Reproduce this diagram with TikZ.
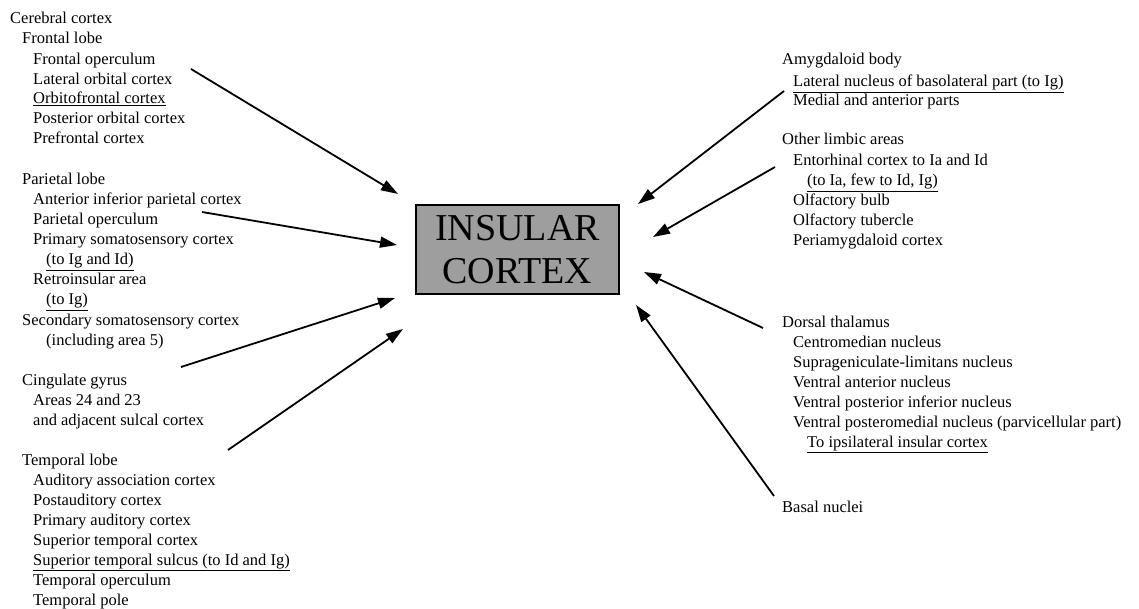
\documentclass[tikz,border=0pt]{standalone}
\usepackage{fontspec}
\setmainfont{Liberation Serif}
\usepackage{tikz}
\usetikzlibrary{arrows.meta}

\begin{document}
\begin{tikzpicture}[x=1pt,y=-1pt]
	 \tikzstyle{item}=[anchor=base west,inner sep=0pt,font=\fontsize{16.5}{19}\selectfont]
	 \tikzstyle{insula}=[draw,line width=1.6pt,fill=black!38,minimum width=203pt,minimum height=89pt,
	                     align=center,inner sep=0pt,font=\fontsize{38}{43}\selectfont]
	 \tikzstyle{projection}=[draw,line width=1.8pt,-{Triangle[length=17pt,width=11pt]},black]

	 \useasboundingbox (0,0) rectangle (1139,609);

	 % centre
	 \node[insula] (ic) at (517.5,249.5) {INSULAR\\CORTEX};

	 % cerebral cortex
	 \node[item] (cc)  at (10,24)  {Cerebral cortex};
	 \node[item] (fl)  at (22,44)  {Frontal lobe};
	 \node[item] (fl1) at (33,65)  {Frontal operculum};
	 \node[item] (fl2) at (33,85)  {Lateral orbital cortex};
	 \node[item] (fl3) at (33,104) {\underline{Orbitofrontal cortex}};
	 \node[item] (fl4) at (33,124) {Posterior orbital cortex};
	 \node[item] (fl5) at (33,144) {Prefrontal cortex};

	 \node[item] (pl)  at (22,185) {Parietal lobe};
	 \node[item] (pl1) at (33,205) {Anterior inferior parietal cortex};
	 \node[item] (pl2) at (33,225) {Parietal operculum};
	 \node[item] (pl3) at (33,245) {Primary somatosensory cortex};
	 \node[item] (pl4) at (46,265) {\underline{(to Ig and Id)}};
	 \node[item] (pl5) at (33,284) {Retroinsular area};
	 \node[item] (pl6) at (46,305) {\underline{(to Ig)}};
	 \node[item] (ss)  at (22,325) {Secondary somatosensory cortex};
	 \node[item] (ss1) at (46,345) {(including area 5)};

	 \node[item] (cg)  at (22,385) {Cingulate gyrus};
	 \node[item] (cg1) at (33,405) {Areas 24 and 23};
	 \node[item] (cg2) at (33,425) {and adjacent sulcal cortex};

	 \node[item] (tl)  at (22,465) {Temporal lobe};
	 \node[item] (tl1) at (33,485) {Auditory association cortex};
	 \node[item] (tl2) at (33,505) {Postauditory cortex};
	 \node[item] (tl3) at (33,525) {Primary auditory cortex};
	 \node[item] (tl4) at (33,545) {Superior temporal cortex};
	 \node[item] (tl5) at (33,565) {\underline{Superior temporal sulcus (to Id and Ig)}};
	 \node[item] (tl6) at (33,585) {Temporal operculum};
	 \node[item] (tl7) at (33,605) {Temporal pole};

	 % limbic and subcortical
	 \node[item] (am)  at (782,65)  {Amygdaloid body};
	 \node[item] (am1) at (793,87)  {\underline{Lateral nucleus of basolateral part (to Ig)}};
	 \node[item] (am2) at (793,106) {Medial and anterior parts};

	 \node[item] (la)  at (782,145) {Other limbic areas};
	 \node[item] (la1) at (793,166) {Entorhinal cortex to Ia and Id};
	 \node[item] (la2) at (807,186) {\underline{(to Ia, few to Id, Ig)}};
	 \node[item] (la3) at (793,206) {Olfactory bulb};
	 \node[item] (la4) at (793,226) {Olfactory tubercle};
	 \node[item] (la5) at (793,246) {Periamygdaloid cortex};

	 \node[item] (dt)  at (782,327) {Dorsal thalamus};
	 \node[item] (dt1) at (793,347) {Centromedian nucleus};
	 \node[item] (dt2) at (793,367) {Suprageniculate-limitans nucleus};
	 \node[item] (dt3) at (793,387) {Ventral anterior nucleus};
	 \node[item] (dt4) at (793,407) {Ventral posterior inferior nucleus};
	 \node[item] (dt5) at (793,427) {Ventral posteromedial nucleus (parvicellular part)};
	 \node[item] (dt6) at (807,447) {\underline{To ipsilateral insular cortex}};

	 \node[item] (bn)  at (782,512) {Basal nuclei};

	 % arrow ends
	 \coordinate (s1) at (191,69);  \coordinate (e1) at (398,194);
	 \coordinate (s2) at (202,212); \coordinate (e2) at (397,245);
	 \coordinate (s3) at (181,367); \coordinate (e3) at (395,298);
	 \coordinate (s4) at (228,450); \coordinate (e4) at (403,329);
	 \coordinate (s5) at (784,91);  \coordinate (e5) at (638,204);
	 \coordinate (s6) at (775,167); \coordinate (e6) at (653,237);
	 \coordinate (s7) at (763,328); \coordinate (e7) at (644,272);
	 \coordinate (s8) at (774,496); \coordinate (e8) at (636,305);

	 \foreach \i in {1,...,8}
	    \draw[projection] (s\i) -- (e\i);
\end{tikzpicture}
\end{document}
